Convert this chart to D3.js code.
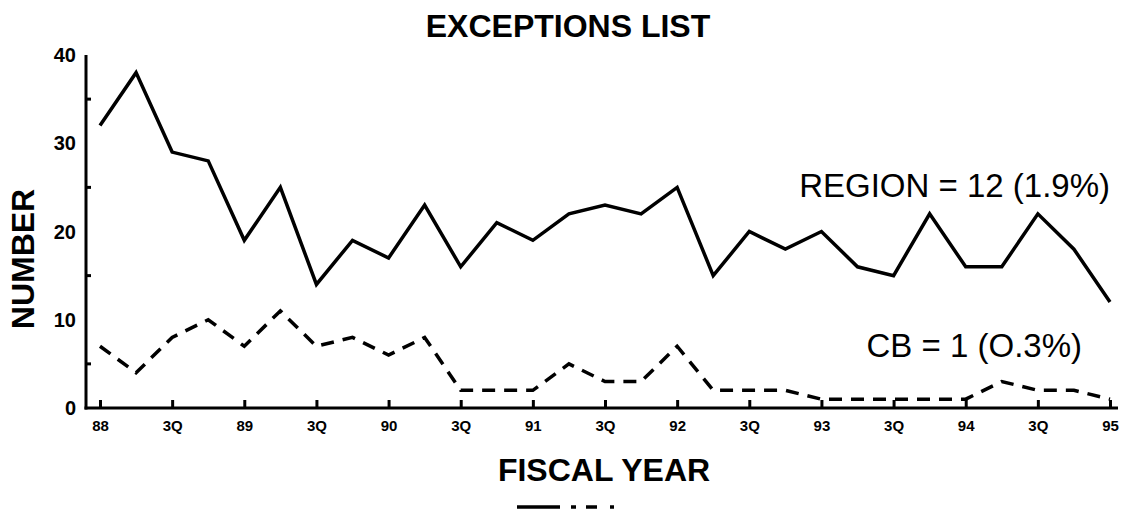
<!DOCTYPE html>
<html>
<head>
<meta charset="utf-8">
<script src="https://cdn.jsdelivr.net/npm/d3@7"></script>
<style>
  html, body { margin: 0; padding: 0; background: #fff; }
  svg { display: block; }
  text { font-family: "Liberation Sans", Arial, Helvetica, sans-serif; fill: #000; }
</style>
</head>
<body>
<svg id="chart" width="1121" height="517"></svg>
<script>
// ---- data ----
const quarters = d3.range(29); // FY88 Q1 .. FY95 Q1
const tickLabels = ["88","3Q","89","3Q","90","3Q","91","3Q","92","3Q","93","3Q","94","3Q","95"];
const regionValues = [32,38,29,28,19,25,14,19,17,23,16,21,19,22,23,22,25,15,20,18,20,16,15,22,16,16,22,18,12];
const cbValues = [7,4,8,10,7,11,7,8,6,8,2,2,2,5,3,3,7,2,2,2,1,1,1,1,1,3,2,2,1];
const yLabelTicks = [0,10,20,30,40];
const yMinorTicks = [5,15,25,35];
const title = "EXCEPTIONS LIST";
const xTitle = "FISCAL YEAR";
const yTitle = "NUMBER";
const regionNote = "REGION = 12 (1.9%)";
const cbNote = "CB = 1 (O.3%)";

// ---- layout ----
const svg = d3.select("#chart");
const x = d3.scaleLinear().domain([0, 28]).range([100, 1110]);
const y = d3.scaleLinear().domain([0, 40]).range([408, 55]);
const axisX = 86;

// title
svg.append("text").attr("x", 568).attr("y", 37).attr("text-anchor", "middle")
  .attr("font-size", 32).attr("font-weight", "bold").text(title);

// y axis line
svg.append("line").attr("x1", axisX).attr("x2", axisX)
  .attr("y1", y(40)).attr("y2", y(0) + 1.5)
  .attr("stroke", "#000").attr("stroke-width", 3);
// x axis line
svg.append("line").attr("x1", axisX - 1.5).attr("x2", x(28) + 8)
  .attr("y1", y(0)).attr("y2", y(0))
  .attr("stroke", "#000").attr("stroke-width", 3);

// y minor ticks (inward)
svg.selectAll(".ymt").data(yMinorTicks).join("line")
  .attr("x1", axisX).attr("x2", axisX + 5)
  .attr("y1", d => y(d)).attr("y2", d => y(d))
  .attr("stroke", "#000").attr("stroke-width", 3);

// y labels
svg.selectAll(".yl").data(yLabelTicks).join("text")
  .attr("x", axisX - 10).attr("y", d => y(d)).attr("dy", "0.36em")
  .attr("text-anchor", "end").attr("font-size", 20).attr("font-weight", "bold")
  .text(d => d);

// x axis ticks via d3 axis
const xTickVals = quarters.filter(q => q % 2 === 0);
const xAxis = d3.axisBottom(x).tickValues(xTickVals)
  .tickSize(-8).tickSizeOuter(0)
  .tickFormat((d, i) => tickLabels[i]);
const gx = svg.append("g").attr("transform", `translate(0,${y(0)})`).call(xAxis);
gx.select(".domain").remove();
gx.selectAll(".tick line").attr("stroke", "#000").attr("stroke-width", 3);
gx.selectAll(".tick text").attr("y", 12).attr("dy", "0.71em")
  .attr("font-size", 15).attr("font-weight", "bold")
  .attr("font-family", "Liberation Sans, Arial, sans-serif").attr("fill", "#000");

// lines
const line = d3.line().x((d, i) => x(quarters[i])).y(d => y(d));
svg.append("path").datum(regionValues).attr("d", line)
  .attr("fill", "none").attr("stroke", "#000").attr("stroke-width", 3.5)
  .attr("stroke-linejoin", "miter");
svg.append("path").datum(cbValues).attr("d", line)
  .attr("fill", "none").attr("stroke", "#000").attr("stroke-width", 3.5)
  .attr("stroke-dasharray", "13,9");

// annotations
svg.append("text").attr("x", 1110).attr("y", 197).attr("text-anchor", "end")
  .attr("font-size", 33).text(regionNote);
svg.append("text").attr("x", 1082).attr("y", 357).attr("text-anchor", "end")
  .attr("font-size", 33).text(cbNote);

// axis titles
svg.append("text").attr("x", 604).attr("y", 481).attr("text-anchor", "middle")
  .attr("font-size", 32).attr("font-weight", "bold").text(xTitle);
svg.append("text").attr("transform", "translate(34,259) rotate(-90)")
  .attr("text-anchor", "middle").attr("font-size", 32).attr("font-weight", "bold")
  .text(yTitle);

// partial legend key at bottom
svg.append("line").attr("x1", 517).attr("x2", 615).attr("y1", 507).attr("y2", 507)
  .attr("stroke", "#000").attr("stroke-width", 3.5)
  .attr("stroke-dasharray", "43,11,5,10,11,13,4,20");
</script>
</body>
</html>
